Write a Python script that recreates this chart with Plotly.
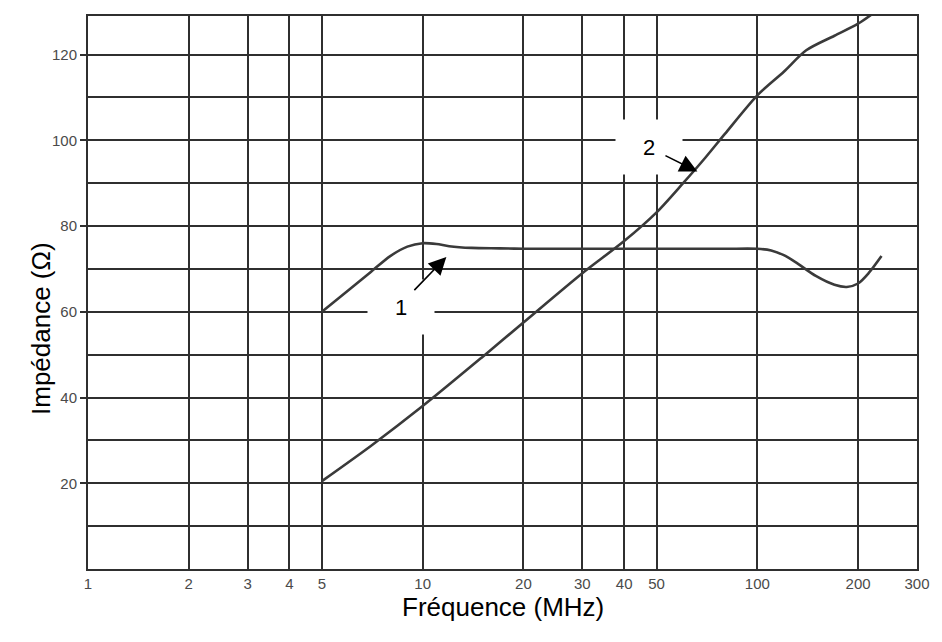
import math
import plotly.graph_objects as go

# ---- data ----
freq_curve1 = [5, 6, 7, 8, 9, 10, 11, 12, 14, 17, 20, 30, 50, 80, 100, 110, 120, 130, 150, 170, 185, 200, 215, 235]
imp_curve1 = [60, 65.0, 69.3, 73.0, 75.2, 76, 75.8, 75.3, 74.9, 74.8, 74.7, 74.7, 74.7, 74.7, 74.7, 74.3, 73.2, 71.6, 68.3, 66.3, 65.8, 66.6, 69, 73]

freq_curve2 = [5, 7, 10, 15, 20, 30, 40, 50, 60, 70, 80, 100, 120, 140, 170, 200, 230]
imp_curve2 = [20.5, 28.7, 38, 49.3, 57.5, 69, 76.5, 83.2, 90, 96, 101.5, 110.5, 116, 121, 124.4, 127.2, 130.5]

x_ticks = [1, 2, 3, 4, 5, 10, 20, 30, 40, 50, 100, 200, 300]
y_major = [20, 40, 60, 80, 100, 120]
y_minor = [10, 30, 50, 70, 90, 110]

curve_labels = ["1", "2"]
label_pos = [(8.61, 61.2), (47.3, 98.4)]
arrow_tail = [(9.35, 64.7), (52.6, 96.6)]
arrow_tip = [(11.77, 72.8), (66.2, 92.7)]

LINE = "#3a3a3a"
GRID = "#2f2f2f"
FONT = "Arial, Liberation Sans, sans-serif"

fig = go.Figure()
fig.add_trace(go.Scatter(x=freq_curve1, y=imp_curve1, mode="lines",
                         line=dict(color=LINE, width=2.6, shape="spline", smoothing=0.8),
                         showlegend=False, hoverinfo="skip"))
fig.add_trace(go.Scatter(x=freq_curve2, y=imp_curve2, mode="lines",
                         line=dict(color=LINE, width=2.6, shape="spline", smoothing=0.8),
                         showlegend=False, hoverinfo="skip"))

annotations = []
for lab, (lx, ly) in zip(curve_labels, label_pos):
    annotations.append(dict(x=math.log10(lx), y=ly, xref="x", yref="y", text=lab,
                            showarrow=False, bgcolor="white", width=66, height=54,
                            borderpad=0, font=dict(family=FONT, size=22, color="black")))
for (tx, ty), (hx, hy) in zip(arrow_tail, arrow_tip):
    annotations.append(dict(x=math.log10(hx), y=hy, xref="x", yref="y",
                            ax=math.log10(tx), ay=ty, axref="x", ayref="y",
                            text="", showarrow=True, arrowhead=2, arrowsize=2.2,
                            arrowwidth=1.6, arrowcolor="black", standoff=0))
annotations.append(dict(x=0.501, y=-0.0995, xref="paper", yref="paper",
                        text="Fréquence (MHz)", showarrow=False,
                        font=dict(family=FONT, size=26, color="black")))
annotations.append(dict(x=-0.0772, y=0.434, xref="paper", yref="paper",
                        text="Impédance (Ω)", textangle=-90, showarrow=False,
                        font=dict(family=FONT, size=26, color="black")))

fig.update_layout(
    width=942, height=642,
    margin=dict(l=88, r=12, t=16, b=73),
    paper_bgcolor="white", plot_bgcolor="white",
    annotations=annotations,
    xaxis=dict(type="log", range=[0, math.log10(300)],
               tickvals=x_ticks, ticktext=[str(v) for v in x_ticks],
               showgrid=True, gridcolor=GRID, gridwidth=1.5,
               showline=True, linecolor=GRID, linewidth=2, mirror=True,
               ticks="", zeroline=False,
               tickfont=dict(family=FONT, size=15, color="#4a4a4a")),
    yaxis=dict(range=[0, 129], tickvals=y_major, ticktext=[str(v) for v in y_major],
               showgrid=True, gridcolor=GRID, gridwidth=1.5,
               showline=True, linecolor=GRID, linewidth=2, mirror=True,
               ticks="outside", ticklen=6, tickcolor=GRID, tickwidth=1.5,
               zeroline=False,
               minor=dict(tickvals=y_minor, showgrid=True, gridcolor=GRID, gridwidth=1.5, ticks=""),
               tickfont=dict(family=FONT, size=15, color="#4a4a4a")),
)

fig.write_html("out.html")
